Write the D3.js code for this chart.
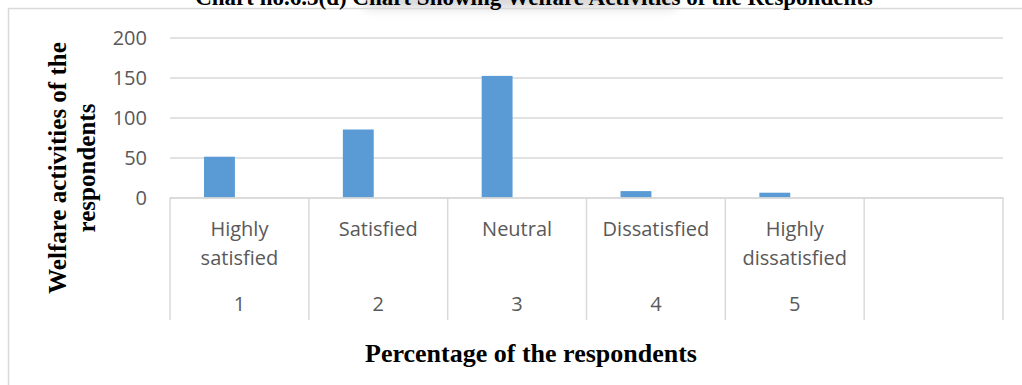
<!DOCTYPE html>
<html>
<head>
<meta charset="utf-8">
<script src="https://cdn.jsdelivr.net/npm/d3@7"></script>
<style>
  html, body { margin: 0; padding: 0; background: #fff; }
  svg { display: block; }
</style>
</head>
<body>
<svg id="chart" width="1022" height="385"></svg>
<script>
// Welfare activities – responses by satisfaction level
const categories = ["Highly satisfied", "Satisfied", "Neutral", "Dissatisfied", "Highly dissatisfied", ""];
const ranks = ["1", "2", "3", "4", "5", ""];
const respondents = [51, 85, 152, 8, 6, null];
const yTicks = [0, 50, 100, 150, 200];

const titleText = "Chart no.6.3(d) Chart Showing Welfare Activities of the Respondents";
const xTitle = "Percentage of the respondents";
const yTitle = ["Welfare activities of the", "respondents"];

const svg = d3.select("#chart");
const W = 1022, H = 385;

const plot = { left: 170, right: 1003, top: 37.5, bottom: 197.5 };
const axisBottom = 320;

const gridColor = "#d9d9d9";
const labelColor = "#595959";
const barColor = "#5b9bd5";
const labelFont = "'Open Sans', 'Noto Sans', sans-serif";
const serif = "'Liberation Serif', 'Times New Roman', serif";

// soft grey haze behind the title
const defs = svg.append("defs");
defs.append("filter").attr("id", "haze")
  .attr("x", "-20%").attr("y", "-200%").attr("width", "140%").attr("height", "500%")
  .append("feGaussianBlur").attr("stdDeviation", 6);
svg.append("rect")
  .attr("x", 365).attr("y", -6).attr("width", 310).attr("height", 13)
  .attr("fill", "#cfcfcf").attr("filter", "url(#haze)");

// outer chart frame
svg.append("rect")
  .attr("x", 8.5).attr("y", 8.5).attr("width", W + 20).attr("height", H + 20)
  .attr("fill", "none").attr("stroke", gridColor).attr("stroke-width", 1.5);

// title (runs off the top edge)
svg.append("text")
  .attr("x", 534).attr("y", 5)
  .attr("text-anchor", "middle")
  .attr("font-family", serif).attr("font-weight", "bold").attr("font-size", 23)
  .attr("fill", "#000")
  .text(titleText);

// scales
const x0 = d3.scaleBand().domain(d3.range(categories.length)).range([plot.left, plot.right]).padding(0);
const x1 = d3.scaleBand().domain(["respondents", "spare"])
  .range([0.245 * x0.bandwidth(), 0.69 * x0.bandwidth()]).padding(0);
const y = d3.scaleLinear().domain([0, 200]).range([plot.bottom, plot.top]);

// horizontal gridlines
const yAxis = d3.axisLeft(y).tickValues(yTicks).tickSize(-(plot.right - plot.left)).tickPadding(23);
const gy = svg.append("g").attr("transform", `translate(${plot.left},0)`).call(yAxis);
gy.select(".domain").remove();
gy.selectAll(".tick line").attr("stroke", gridColor).attr("stroke-width", 1.5);
gy.selectAll(".tick text")
  .attr("fill", labelColor).attr("font-family", labelFont).attr("font-size", 20)
  .attr("dy", "0.36em");

// bars
svg.append("g").selectAll("rect")
  .data(respondents.map((v, i) => ({ v, i })).filter(d => d.v != null))
  .join("rect")
  .attr("x", d => x0(d.i) + x1("respondents"))
  .attr("width", x1.bandwidth())
  .attr("y", d => y(d.v))
  .attr("height", d => y(0) - y(d.v))
  .attr("fill", barColor);

// multi-level category axis: baseline, dividers, labels
const gx = svg.append("g");
gx.append("line")
  .attr("x1", plot.left).attr("x2", plot.right)
  .attr("y1", y(0) + 0.5).attr("y2", y(0) + 0.5)
  .attr("stroke", gridColor).attr("stroke-width", 1.5);
gx.selectAll("line.div")
  .data(d3.range(categories.length + 1))
  .join("line").attr("class", "div")
  .attr("x1", i => i < categories.length ? x0(i) : plot.right)
  .attr("x2", i => i < categories.length ? x0(i) : plot.right)
  .attr("y1", y(0)).attr("y2", axisBottom)
  .attr("stroke", gridColor).attr("stroke-width", 1.5);

const catG = gx.selectAll("g.cat")
  .data(categories.map((c, i) => ({ c, i })))
  .join("g").attr("class", "cat")
  .attr("transform", d => `translate(${x0(d.i) + x0.bandwidth() / 2},0)`);

catG.each(function (d) {
  const g = d3.select(this);
  const t = g.append("text")
    .attr("text-anchor", "middle")
    .attr("font-family", labelFont).attr("font-size", 20).attr("fill", labelColor);
  // wrap words that overflow the category width
  const words = d.c.split(" ").filter(w => w.length);
  const lines = [];
  let cur = [];
  const probe = t.append("tspan");
  words.forEach(w => {
    const test = cur.concat(w).join(" ");
    probe.text(test);
    if (probe.node().getComputedTextLength() > x0.bandwidth() - 12 && cur.length) {
      lines.push(cur.join(" "));
      cur = [w];
    } else {
      cur.push(w);
    }
  });
  if (cur.length) lines.push(cur.join(" "));
  probe.remove();
  lines.forEach((ln, k) => {
    t.append("tspan").attr("x", 0).attr("y", 236 + k * 29).text(ln);
  });
  g.append("text")
    .attr("text-anchor", "middle").attr("y", 311)
    .attr("font-family", labelFont).attr("font-size", 20).attr("fill", labelColor)
    .text(ranks[d.i]);
});

// axis titles
svg.append("text")
  .attr("x", 531).attr("y", 362)
  .attr("text-anchor", "middle")
  .attr("font-family", serif).attr("font-weight", "bold").attr("font-size", 26)
  .attr("fill", "#000")
  .text(xTitle);

const yt = svg.append("text")
  .attr("transform", "translate(0,168) rotate(-90)")
  .attr("text-anchor", "middle")
  .attr("font-family", serif).attr("font-weight", "bold").attr("font-size", 25)
  .attr("fill", "#000");
yTitle.forEach((ln, k) => {
  yt.append("tspan").attr("x", 0).attr("y", 66 + k * 29).text(ln);
});
</script>
</body>
</html>
